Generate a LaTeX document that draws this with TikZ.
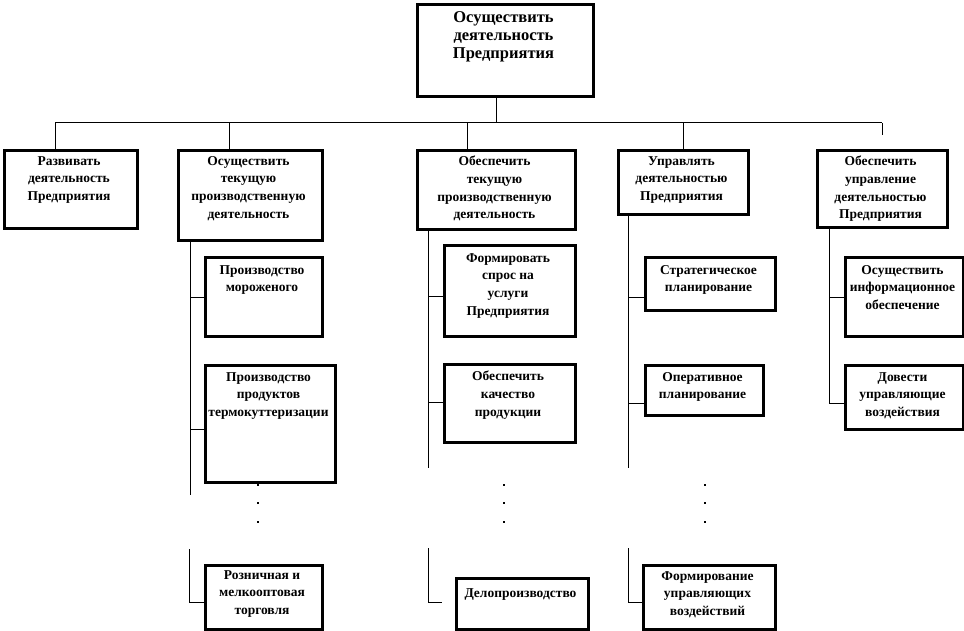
\documentclass[tikz,border=0pt]{standalone}
\usepackage{fontspec}
\setmainfont{Liberation Serif}
\newcommand\mkbox[7]{%
  \node[box, minimum width={#4-#2-3}, minimum height={#5-#3-3}, anchor=north west] (#1) at (#2+1.5,#3+1.5) {};
  \node[lbl] (#1-t) at ({(#2+#4)/2},#3+#7) {#6};}
\begin{document}
\begin{tikzpicture}[x=1pt,y=-1pt,
  box/.style={draw=black, line width=3pt, inner sep=0pt, fill=white},
  conn/.style={draw=black, line width=1pt},
  lbl/.style={font=\fontsize{13.5}{17.7}\selectfont\bfseries, align=center, anchor=north, inner sep=0pt},
  toplbl/.style={font=\fontsize{16.5}{18.3}\selectfont\bfseries, align=center, anchor=north, inner sep=0pt},
  dotmark/.style={fill=black}]
\useasboundingbox[fill=white] (0,0) rectangle (964,631);

% connector coordinates
\coordinate (j0) at (496,123);
\coordinate (busL) at (55,123);
\coordinate (busR) at (882,123);
\coordinate (j2) at (229,123);
\coordinate (j3) at (467,123);
\coordinate (j4) at (683,123);
\coordinate (j5end) at (882,135);

\coordinate (c2a) at (190,495);
\coordinate (c2b1) at (190,297);
\coordinate (c2b2) at (190,429);
\coordinate (c2lo) at (189,549);
\coordinate (c2bend) at (189,602);

\coordinate (c3a) at (428,468);
\coordinate (c3b1) at (428,296);
\coordinate (c3b2) at (428,402);
\coordinate (c3lo) at (428,548);
\coordinate (c3bend) at (428,602);
\coordinate (c3end) at (442,602);

\coordinate (c4a) at (628,468);
\coordinate (c4b1) at (628,297);
\coordinate (c4b2) at (628,403);
\coordinate (c4lo) at (628,548);
\coordinate (c4bend) at (628,602);

\coordinate (c5b1) at (829,297);
\coordinate (c5b2) at (829,403);

% boxes
\node[box, minimum width=176, minimum height=92, anchor=north west] (A) at (415.5,3.5) {};
\node[toplbl] (A-t) at (503.5,11) {Осуществить\\деятельность\\Предприятия};

\mkbox{B1}{1}{148}{137}{229}{Развивать\\деятельность\\Предприятия}{8}
\mkbox{B2}{175}{148}{322}{241}{Осуществить\\текущую\\производственную\\деятельность}{8}
\mkbox{B3}{414}{148}{575}{230}{Обеспечить\\текущую\\производственную\\деятельность}{8}
\mkbox{B4}{615}{148}{748}{215}{Управлять\\деятельностью\\Предприятия}{8}
\mkbox{B5}{814}{148}{947}{228}{Обеспечить\\управление\\деятельностью\\Предприятия}{8}

\mkbox{C1}{202}{255}{322}{336}{Производство\\мороженого}{10}
\mkbox{C2}{202}{362}{335}{482}{Производство\\продуктов\\термокуттеризации}{10}
\mkbox{C3}{202}{562}{322}{629}{Розничная и\\мелкооптовая\\торговля}{8}

\mkbox{D1}{441}{243}{575}{336}{Формировать\\спрос на\\услуги\\Предприятия}{10}
\mkbox{D2}{441}{361}{575}{442}{Обеспечить\\качество\\продукции}{10}
\mkbox{D3}{453}{575}{588}{629}{Делопроизводство}{13}

\mkbox{E1}{642}{255}{775}{310}{Стратегическое\\планирование}{10}
\mkbox{E2}{642}{362}{763}{415}{Оперативное\\планирование}{10}
\mkbox{E3}{640}{562}{775}{629}{Формирование\\управляющих\\воздействий}{9}

\mkbox{F1}{842}{255}{963}{336}{Осуществить\\информационное\\обеспечение}{10}
\mkbox{F2}{842}{362}{963}{429}{Довести\\управляющие\\воздействия}{10}

% top stem and bus
\draw[conn] (A.south -| j0) -- (j0);
\draw[conn] (busL) -- (busR);
\draw[conn] (busL) -- (busL |- B1.north);
\draw[conn] (j2) -- (j2 |- B2.north);
\draw[conn] (j3) -- (j3 |- B3.north);
\draw[conn] (j4) -- (j4 |- B4.north);
\draw[conn] (busR) -- (j5end);

% column 2
\draw[conn] (B2.south -| c2a) -- (c2a);
\draw[conn] (c2b1) -- (c2b1 -| C1.west);
\draw[conn] (c2b2) -- (c2b2 -| C2.west);
\draw[conn] (c2lo) -- (c2bend) -- (c2bend -| C3.west);

% column 3
\draw[conn] (B3.south -| c3a) -- (c3a);
\draw[conn] (c3b1) -- (c3b1 -| D1.west);
\draw[conn] (c3b2) -- (c3b2 -| D2.west);
\draw[conn] (c3lo) -- (c3bend) -- (c3end);

% column 4
\draw[conn] (B4.south -| c4a) -- (c4a);
\draw[conn] (c4b1) -- (c4b1 -| E1.west);
\draw[conn] (c4b2) -- (c4b2 -| E2.west);
\draw[conn] (c4lo) -- (c4bend) -- (c4bend -| E3.west);

% column 5
\draw[conn] (B5.south -| c5b2) -- (c5b2) -- (c5b2 -| F2.west);
\draw[conn] (c5b1) -- (c5b1 -| F1.west);

% ellipsis dots
\foreach \xx in {257,503,704}{
  \foreach \yy in {484,502,521}{
    \fill[dotmark] (\xx,\yy) rectangle +(2,2);
  }
}
\end{tikzpicture}
\end{document}
